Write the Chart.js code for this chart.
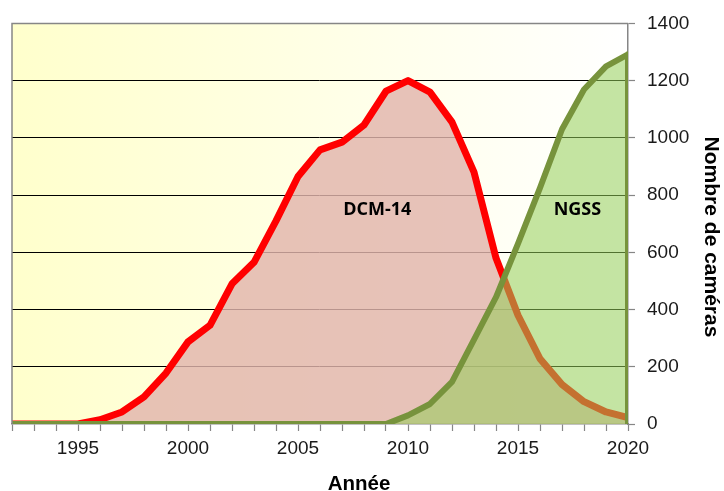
<!DOCTYPE html>
<html>
<head>
<meta charset="utf-8">
<script src="https://cdn.jsdelivr.net/npm/chart.js@4/dist/chart.umd.min.js"></script>
<style>
  html, body { margin: 0; padding: 0; background: #ffffff; }
  #wrap { width: 724px; height: 491px; position: relative; }
</style>
</head>
<body>
<div id="wrap"><canvas id="chart" width="724" height="491"></canvas></div>
<script>
// Camera counts per year for the two networks
const years = [1992, 1993, 1994, 1995, 1996, 1997, 1998, 1999, 2000, 2001,
               2002, 2003, 2004, 2005, 2006, 2007, 2008, 2009, 2010, 2011,
               2012, 2013, 2014, 2015, 2016, 2017, 2018, 2019, 2020];
const dcm14 = [0, 0, 0, 0, 15, 42, 95, 178, 287, 345,
               490, 565, 710, 865, 958, 985, 1045, 1163, 1200, 1160,
               1055, 880, 580, 380, 228, 138, 78, 42, 22];
const ngss  = [0, 0, 0, 0, 0, 0, 0, 0, 0, 0,
               0, 0, 0, 0, 0, 0, 0, 0, 30, 70,
               147, 295, 443, 630, 825, 1030, 1169, 1250, 1292];
const seriesNames = ['DCM-14', 'NGSS'];
const xTitle = 'Année';
const yTitle = 'Nombre de caméras';

const toPoints = (vals) => years.map((y, i) => ({ x: y, y: vals[i] }));
// the NGSS outline closes down to the axis at the last year
const ngssPoints = toPoints(ngss).concat([{ x: years[years.length - 1], y: 0 }]);

const FONT = "'Liberation Sans', Arial, sans-serif";

// chart-area background (yellow fading to white) and frame
const areaBackground = {
  id: 'areaBackground',
  beforeDraw(chart) {
    const { ctx, chartArea: a } = chart;
    const g = ctx.createLinearGradient(a.left, 0, a.right, 0);
    g.addColorStop(0, '#ffffcc');
    g.addColorStop(1, '#ffffff');
    ctx.save();
    ctx.fillStyle = g;
    ctx.fillRect(a.left, a.top, a.right - a.left, a.bottom - a.top);
    ctx.restore();
  },
  afterDraw(chart) {
    const { ctx, chartArea: a } = chart;
    ctx.save();
    ctx.strokeStyle = '#868686';
    ctx.lineWidth = 1.5;
    ctx.beginPath();
    ctx.moveTo(a.left, a.bottom);
    ctx.lineTo(a.left, a.top);
    ctx.lineTo(a.right, a.top);
    ctx.stroke();
    ctx.restore();
  }
};

// series names inside the areas and the axis titles
const textLayer = {
  id: 'textLayer',
  afterDatasetsDraw(chart) {
    const { ctx, scales: { x, y } } = chart;
    const spots = [{ x: 2008.6, y: 750 }, { x: 2017.7, y: 750 }];
    ctx.save();
    ctx.fillStyle = '#000000';
    ctx.font = "bold 18px 'Open Sans', sans-serif";
    ctx.textAlign = 'center';
    ctx.textBaseline = 'middle';
    seriesNames.forEach((name, i) => {
      ctx.fillText(name, x.getPixelForValue(spots[i].x), y.getPixelForValue(spots[i].y));
    });
    ctx.font = 'bold 20.5px ' + FONT;
    ctx.textBaseline = 'alphabetic';
    ctx.fillText(xTitle, 359, 490);
    ctx.translate(705, 237);
    ctx.rotate(Math.PI / 2);
    ctx.font = 'bold 21px ' + FONT;
    ctx.fillText(yTitle, 0, 0);
    ctx.restore();
  }
};

new Chart(document.getElementById('chart'), {
  type: 'line',
  data: {
    datasets: [
      {
        label: seriesNames[0],
        data: toPoints(dcm14),
        order: 2,
        borderColor: '#ff0000',
        borderWidth: 7,
        backgroundColor: 'rgba(226,180,172,0.82)',
        fill: 'origin',
        tension: 0,
        pointRadius: 0,
        borderJoinStyle: 'round',
        borderCapStyle: 'round'
      },
      {
        label: seriesNames[1],
        data: ngssPoints,
        order: 1,
        borderColor: '#77933c',
        borderWidth: 6,
        backgroundColor: 'rgba(147,205,88,0.55)',
        fill: 'origin',
        tension: 0,
        pointRadius: 0,
        borderJoinStyle: 'round',
        borderCapStyle: 'round'
      }
    ]
  },
  options: {
    responsive: false,
    animation: false,
    events: [],
    layout: { padding: { left: 12, top: 22, right: 0, bottom: 0 } },
    plugins: {
      legend: { display: false },
      tooltip: { enabled: false }
    },
    scales: {
      x: {
        type: 'linear',
        min: 1992,
        max: 2020,
        afterFit(scale) { scale.height = 67; },
        grid: {
          drawOnChartArea: false,
          drawTicks: true,
          tickLength: 7,
          tickColor: '#868686',
          tickWidth: 1.2
        },
        border: { color: '#868686', width: 1.5 },
        ticks: {
          stepSize: 1,
          autoSkip: false,
          maxRotation: 0,
          padding: 6,
          color: '#1a1a1a',
          font: { family: FONT, size: 19 },
          callback: (v) => (v % 5 === 0 ? String(v) : '')
        }
      },
      y: {
        position: 'right',
        min: 0,
        max: 1400,
        afterFit(scale) { scale.width = 96; },
        grid: {
          color: (c) => (c.tick.value === 1400 ? '#868686' : (c.tick.value === 0 ? 'rgba(0,0,0,0)' : '#000000')),
          lineWidth: 1,
          tickLength: 7,
          tickColor: '#868686',
          tickWidth: 1.2
        },
        border: { color: '#868686', width: 1.5 },
        ticks: {
          stepSize: 200,
          padding: 12,
          color: '#1a1a1a',
          font: { family: FONT, size: 19 },
          callback: (v) => String(v)
        }
      }
    }
  },
  plugins: [areaBackground, textLayer]
});
</script>
</body>
</html>
